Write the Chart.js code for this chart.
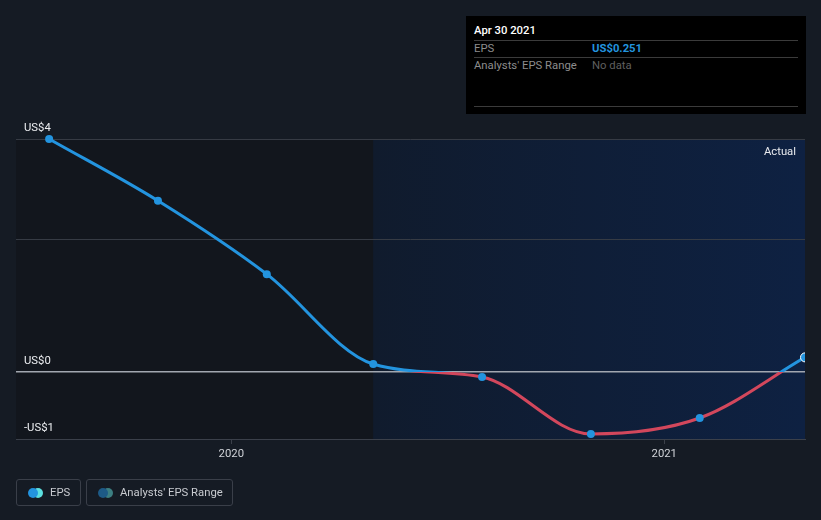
<!DOCTYPE html>
<html>
<head>
<meta charset="utf-8">
<script src="https://cdn.jsdelivr.net/npm/chart.js@4.4.0/dist/chart.umd.min.js"></script>
<style>
  html, body { margin: 0; padding: 0; background: #151b24; }
  body { width: 821px; height: 520px; position: relative; overflow: hidden; font-family: Roboto, "Noto Sans", sans-serif; }
  #wrap { position: absolute; left: 0; top: 0; width: 821px; height: 520px; }
  .tip { position: absolute; left: 466px; top: 16px; width: 340px; height: 98px; background: #000; }
  .tip .title { position: absolute; left: 8px; top: 8px; font-size: 11.3px; color: #fff; font-weight: 500; }
  .tip .sep { position: absolute; left: 8px; width: 324px; height: 1px; background: #3b3b3b; }
  .tip .lbl { position: absolute; left: 8px; font-size: 11.3px; color: #8d8d8d; }
  .tip .val { position: absolute; left: 126px; font-size: 11.3px; }
  .legend { position: absolute; top: 479px; height: 27px; border: 1px solid #3a3f49; border-radius: 3px; box-sizing: border-box; }
  .legend .dot { position: absolute; top: 7.5px; width: 10px; height: 10px; border-radius: 50%; }
  .legend span.txt { position: absolute; top: 5.5px; font-size: 11.3px; color: #c8cbd0; }
</style>
</head>
<body>
<div id="wrap"><canvas id="chart" width="821" height="520"></canvas></div>

<div class="tip">
  <div class="title">Apr 30 2021</div>
  <div class="sep" style="top:24px"></div>
  <div class="lbl" style="top:26px">EPS</div>
  <div class="val" style="top:26px;color:#2394df;font-weight:bold">US$0.251</div>
  <div class="sep" style="top:41px"></div>
  <div class="lbl" style="top:43px">Analysts' EPS Range</div>
  <div class="val" style="top:43px;color:#5f5f5f">No data</div>
  <div class="sep" style="top:90px"></div>
</div>

<div class="legend" style="left:16px;width:65px">
  <div class="dot" style="left:16px;background:#5ce0e0"></div>
  <div class="dot" style="left:11px;background:#2394df"></div>
  <span class="txt" style="left:33px">EPS</span>
</div>
<div class="legend" style="left:86px;width:147px">
  <div class="dot" style="left:16px;background:#3c7f82"></div>
  <div class="dot" style="left:11px;background:#1d5a86"></div>
  <span class="txt" style="left:33px">Analysts' EPS Range</span>
</div>

<script>
// quarterly EPS (US$)
var dates = ['2019-07-31', '2019-10-31', '2020-01-31', '2020-04-30', '2020-07-31', '2020-10-31', '2021-01-31', '2021-04-30'];
var eps = [4.00, 2.94, 1.68, 0.137, -0.086, -1.064, -0.79, 0.251];

var xMin = '2019-07-03';
var xMax = '2021-04-30';
var actualStart = '2020-04-30';
var yearTicks = ['2020-01-01', '2021-01-01'];

var yMin = -1.15;
var yMax = 4.0;
var yTickValues = [4.0, 2.283, 0, -1.15];
var yTickLabels = ['US$4', '', 'US$0', '-US$1'];

var BLUE = '#2394df';
var RED = '#d3475c';

function t(d) { return Date.parse(d + 'T00:00:00Z'); }

var points = dates.map(function(d, i) { return { x: t(d), y: eps[i] }; });

function lineColor(ctx) {
  var chart = ctx.chart;
  var area = chart.chartArea;
  if (!area) return BLUE;
  var zero = chart.scales.y.getPixelForValue(0);
  var stop = (zero - area.top) / (area.bottom - area.top);
  stop = Math.max(0, Math.min(1, stop));
  var g = chart.ctx.createLinearGradient(0, area.top, 0, area.bottom);
  g.addColorStop(0, BLUE);
  g.addColorStop(stop, BLUE);
  g.addColorStop(stop, RED);
  g.addColorStop(1, RED);
  return g;
}

// past / actual backgrounds under the grid, and the "Actual" label
var regions = {
  id: 'regions',
  beforeDraw: function(chart) {
    var c = chart.ctx, a = chart.chartArea, x = chart.scales.x;
    if (!a) return;
    var split = x.getPixelForValue(t(actualStart));
    c.save();
    c.fillStyle = '#12161d';
    c.fillRect(a.left, a.top, split - a.left, a.bottom - a.top);
    var g = c.createLinearGradient(split, 0, a.right, 0);
    g.addColorStop(0, '#101b2d');
    g.addColorStop(1, '#0e2142');
    c.fillStyle = g;
    c.fillRect(split, a.top, a.right - split, a.bottom - a.top);
    c.restore();
  },
  afterDatasetsDraw: function(chart) {
    var c = chart.ctx, a = chart.chartArea;
    c.save();
    c.font = '11.3px Roboto';
    c.fillStyle = '#e8eaee';
    c.textAlign = 'right';
    c.textBaseline = 'middle';
    c.fillText('Actual', a.right - 9, a.top + 13);
    c.restore();
  }
};

new Chart(document.getElementById('chart'), {
  type: 'line',
  data: {
    datasets: [{
      label: 'EPS',
      data: points,
      borderColor: lineColor,
      borderWidth: 3,
      cubicInterpolationMode: 'monotone',
      pointRadius: eps.map(function(v, i) { return i === eps.length - 1 ? 4.5 : 4; }),
      pointBackgroundColor: BLUE,
      pointBorderColor: eps.map(function(v, i) { return i === eps.length - 1 ? '#ffffff' : BLUE; }),
      pointBorderWidth: eps.map(function(v, i) { return i === eps.length - 1 ? 1 : 0; }),
      clip: { left: 10, top: 10, right: 0, bottom: 10 }
    }]
  },
  options: {
    responsive: false,
    animation: false,
    layout: { padding: { left: 16, right: 16, top: 139, bottom: 0 } },
    plugins: { legend: { display: false }, tooltip: { enabled: false } },
    scales: {
      x: {
        type: 'linear',
        min: t(xMin),
        max: t(xMax),
        afterFit: function(s) { s.height = 81; },
        afterBuildTicks: function(s) { s.ticks = yearTicks.map(function(d) { return { value: t(d) }; }); },
        border: { display: true, color: '#3b404a', width: 1 },
        grid: { drawOnChartArea: false, drawTicks: true, tickLength: 5, color: '#3b404a' },
        ticks: {
          color: '#d0d3d8',
          font: { family: 'Roboto', size: 11.3 },
          padding: 3,
          maxRotation: 0,
          callback: function(v) { return new Date(v).getUTCFullYear(); }
        }
      },
      y: {
        min: yMin,
        max: yMax,
        afterFit: function(s) { s.width = 0; },
        afterBuildTicks: function(s) { s.ticks = yTickValues.map(function(v) { return { value: v }; }); },
        border: { display: false },
        grid: {
          drawTicks: false,
          color: function(ctx) { return ctx.tick && ctx.tick.value === 0 ? '#a2a7b0' : '#363b44'; },
          lineWidth: function(ctx) { return ctx.tick && ctx.tick.value === 0 ? 1.5 : 1; }
        },
        ticks: {
          mirror: true,
          padding: 8,
          labelOffset: -11,
          color: '#eceef1',
          font: { family: 'Roboto', size: 11.3 },
          callback: function(v, i) { return yTickLabels[i]; }
        }
      }
    }
  },
  plugins: [regions]
});
</script>
</body>
</html>
